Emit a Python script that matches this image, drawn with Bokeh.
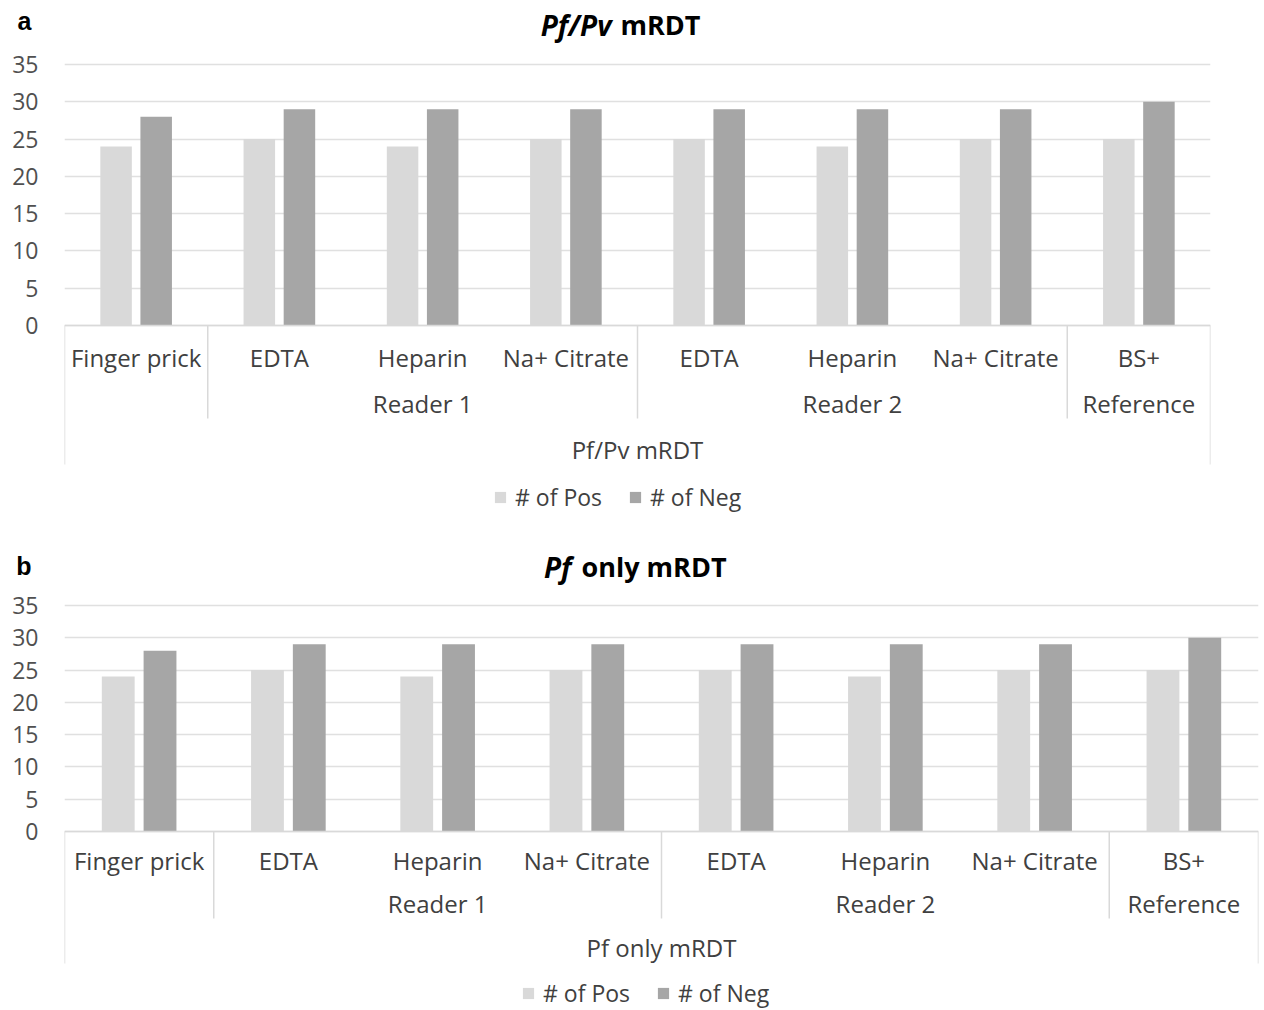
from bokeh.plotting import figure
from bokeh.models import (FactorRange, Range1d, FixedTicker, Label, Legend, LegendItem,
                          ColumnDataSource, LinearAxis)
from bokeh.transform import dodge
from bokeh.embed import file_html
from bokeh.resources import INLINE
from bokeh.core.properties import value

# ---------------- data ----------------
groups = ["", "Reader 1", "Reader 1", "Reader 1", "Reader 2", "Reader 2", "Reader 2", "Reference"]
samples = ["Finger prick", "EDTA", "Heparin", "Na+ Citrate", "EDTA", "Heparin", "Na+ Citrate", "BS+"]
series_names = ["# of Pos", "# of Neg"]

pos_a = [24, 25, 24, 25, 25, 24, 25, 25]
neg_a = [28, 29, 29, 29, 29, 29, 29, 30]
pos_b = [24, 25, 24, 25, 25, 24, 25, 25]
neg_b = [28, 29, 29, 29, 29, 29, 29, 30]
y_ticks = [0, 5, 10, 15, 20, 25, 30, 35]

POS_COLOR = "#d9d9d9"
NEG_COLOR = "#a6a6a6"
GRID_COLOR = "#e0e0e0"
SEP_COLOR = "#d9d9d9"
TXT = "#404040"
FONT = "Open Sans"
LBL_SIZE = "24px"


def make_panel(letter, title_it, title_rest, outer_label, pos, neg, height,
               border_right, y_lo, y_hi, rows, legend_loc, title_x_px, title_gap):
    factors = list(zip(groups, samples))
    xr = FactorRange(factors=factors, group_padding=0, factor_padding=0,
                     subgroup_padding=0, range_padding=0)
    p = figure(x_range=xr, y_range=Range1d(y_lo, y_hi), width=1264, height=height,
               output_backend="svg", toolbar_location=None,
               min_border_left=64, min_border_right=border_right,
               min_border_top=0, min_border_bottom=0)
    p.outline_line_color = None
    p.xaxis.visible = False
    p.xgrid.grid_line_color = None
    p.ygrid.ticker = FixedTicker(ticks=y_ticks)
    p.ygrid.grid_line_color = GRID_COLOR
    p.ygrid.grid_line_width = 1.5
    p.yaxis.ticker = FixedTicker(ticks=y_ticks)
    p.yaxis.axis_line_color = None
    p.yaxis.major_tick_line_color = None
    p.yaxis.minor_tick_line_color = None
    p.yaxis.major_tick_out = 0
    p.yaxis.major_tick_in = 0
    p.yaxis.major_label_standoff = 26
    p.yaxis.major_label_text_font = FONT
    p.yaxis.major_label_text_font_size = "23px"
    p.yaxis.major_label_text_color = "#505050"

    # panel letter as an extra left axis with a single labelled tick
    lt = round(rows["letter"], 2)
    ax2 = LinearAxis(ticker=FixedTicker(ticks=[lt]), major_label_overrides={lt: letter},
                     axis_line_color=None, major_tick_line_color=None,
                     minor_tick_line_color=None, major_tick_out=0, major_tick_in=0,
                     major_label_standoff=-22,
                     major_label_text_font="Liberation Sans",
                     major_label_text_font_size="25px",
                     major_label_text_font_style="bold",
                     major_label_text_color="#000000")
    p.add_layout(ax2, "left")

    src = ColumnDataSource(dict(x=factors, pos=pos, neg=neg))
    r_pos = p.vbar(x=dodge("x", -0.14, range=xr), top="pos", width=0.22, source=src,
                   fill_color=POS_COLOR, line_color=None)
    r_neg = p.vbar(x=dodge("x", 0.14, range=xr), top="neg", width=0.22, source=src,
                   fill_color=NEG_COLOR, line_color=None)

    # baseline (axis line)
    p.segment(x0=[(factors[0][0], factors[0][1], -0.5)], y0=[0],
              x1=[(factors[-1][0], factors[-1][1], 0.5)], y1=[0],
              line_color=SEP_COLOR, line_width=1.5)

    # group separators (between groups) and outer borders
    inner_x = []
    for i in range(1, len(factors)):
        if groups[i] != groups[i - 1]:
            inner_x.append((factors[i][0], factors[i][1], -0.5))
    p.segment(x0=inner_x, y0=[0] * len(inner_x), x1=inner_x, y1=[rows["inner_bot"]] * len(inner_x),
              line_color=SEP_COLOR, line_width=1.5)
    outer_x = [(factors[0][0], factors[0][1], -0.5), (factors[-1][0], factors[-1][1], 0.5)]
    p.segment(x0=outer_x, y0=[0, 0], x1=outer_x, y1=[rows["outer_bot"]] * 2,
              line_color=SEP_COLOR, line_width=1.5)

    # category labels
    p.text(x=factors, y=[rows["cat"]] * len(factors), text=samples,
           text_align="center", text_baseline="middle", text_font=value(FONT),
           text_font_size=LBL_SIZE, text_color=TXT)

    # group labels centred on their span
    g_x, g_t = [], []
    seen = []
    for g in groups:
        if g and g not in seen:
            seen.append(g)
    for g in seen:
        idx = [i for i, gg in enumerate(groups) if gg == g]
        n = len(idx)
        mid = idx[n // 2]
        off = 0.0 if n % 2 == 1 else -0.5
        g_x.append((factors[mid][0], factors[mid][1], off))
        g_t.append(g)
    p.text(x=g_x, y=[rows["grp"]] * len(g_x), text=g_t,
           text_align="center", text_baseline="middle", text_font=value(FONT),
           text_font_size=LBL_SIZE, text_color=TXT)

    # outer label centred on the whole axis
    n = len(factors)
    mid = factors[n // 2]
    p.text(x=[(mid[0], mid[1], -0.5)], y=[rows["outer"]], text=[outer_label],
           text_align="center", text_baseline="middle", text_font=value(FONT),
           text_font_size=LBL_SIZE, text_color=TXT)

    # title (italic part + plain part)
    p.add_layout(Label(x=title_x_px, y=rows["title"], x_units="screen", y_units="data",
                       text=title_it, text_align="right", text_baseline="middle",
                       text_font=FONT, text_font_size="28px", text_font_style="bold italic",
                       text_color="#000000"))
    p.add_layout(Label(x=title_x_px, y=rows["title"], x_units="screen", y_units="data",
                       x_offset=title_gap, text=title_rest, text_align="left",
                       text_baseline="middle", text_font=FONT, text_font_size="27px",
                       text_font_style="bold", text_color="#000000"))

    legend = Legend(items=[LegendItem(label=series_names[0], renderers=[r_pos]),
                           LegendItem(label=series_names[1], renderers=[r_neg])],
                    orientation="horizontal", location=legend_loc,
                    glyph_width=14, glyph_height=14, label_standoff=8, spacing=26,
                    padding=0, margin=0, border_line_color=None, background_fill_alpha=0,
                    label_text_font=FONT, label_text_font_size="23px", label_text_color=TXT)
    p.add_layout(legend, "center")
    return p


# Panel a: value 0 at page y=325, 35 at y=64 ; figure spans y=0..528
ppu_a = (325 - 64) / 35.0
def ya(py):
    return (325 - py) / ppu_a
rows_a = dict(cat=ya(357), grp=ya(403), outer=ya(449), inner_bot=ya(418), outer_bot=ya(464),
              title=ya(24), letter=ya(20))
pa = make_panel("a", "Pf/Pv", "mRDT", "Pf/Pv mRDT", pos_a, neg_a, 528, 54,
                ya(528), ya(0), rows_a, (429, 15), 611 - 64, 9)

# Panel b: value 0 at page y=831, 35 at y=605 ; figure spans y=528..1010
ppu_b = (831 - 605) / 35.0
def yb(py):
    return (831 - py) / ppu_b
rows_b = dict(cat=yb(860), grp=yb(903), outer=yb(947), inner_bot=yb(918), outer_bot=yb(963),
              title=yb(566), letter=yb(565))
pb = make_panel("b", "Pf", "only mRDT", "Pf only mRDT", pos_b, neg_b, 482, 6,
                yb(1010), yb(528), rows_b, (457, 1), 571 - 64, 10)

open("out.html", "w").write(file_html([pa, pb], INLINE))
